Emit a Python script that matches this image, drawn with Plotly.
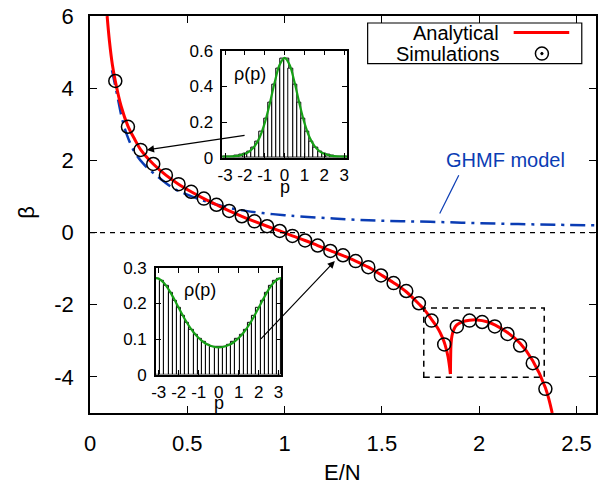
import plotly.graph_objects as go

# ---------------- main panel data ----------------
# simulation points: energy per particle and measured inverse temperature
E_SIM = [0.130, 0.195, 0.260, 0.325, 0.390, 0.455, 0.520, 0.585, 0.650, 0.715,
         0.780, 0.845, 0.910, 0.975, 1.040, 1.105, 1.170, 1.235, 1.300, 1.365,
         1.430, 1.495, 1.560, 1.625, 1.690, 1.755, 1.820, 1.885, 1.950, 2.015,
         2.080, 2.145, 2.210, 2.275, 2.340]
BETA_SIM = [4.20, 2.93, 2.29, 1.90, 1.59, 1.34, 1.13, 0.94, 0.77, 0.60,
            0.45, 0.31, 0.175, 0.044, -0.094, -0.22, -0.36, -0.51, -0.63, -0.79,
            -0.96, -1.19, -1.40, -1.62, -1.96, -2.44, -3.10, -2.60, -2.44, -2.48,
            -2.60, -2.81, -3.13, -3.62, -4.33]

# analytical curve, low-energy branch (ends at the cusp)
E_AN_1 = [0.088, 0.100, 0.115, 0.130, 0.160, 0.195, 0.230, 0.260, 0.325, 0.390,
          0.455, 0.520, 0.585, 0.650, 0.715, 0.780, 0.845, 0.910, 0.975, 1.040,
          1.105, 1.170, 1.235, 1.300, 1.365, 1.430, 1.495, 1.560, 1.625, 1.690,
          1.720, 1.754, 1.790, 1.810, 1.825, 1.840, 1.852]
BETA_AN_1 = [6.00, 5.30, 4.65, 4.20, 3.50, 2.95, 2.58, 2.30, 1.90, 1.59,
             1.34, 1.13, 0.94, 0.77, 0.60, 0.45, 0.31, 0.175, 0.045, -0.09,
             -0.22, -0.36, -0.50, -0.64, -0.79, -0.96, -1.17, -1.39, -1.64, -1.98,
             -2.15, -2.40, -2.68, -2.90, -3.12, -3.45, -3.92]
# analytical curve, high-energy branch (starts at the cusp)
E_AN_2 = [1.852, 1.853, 1.855, 1.860, 1.870, 1.885, 1.910, 1.950, 1.990, 2.040,
          2.080, 2.145, 2.210, 2.275, 2.340, 2.375]
BETA_AN_2 = [-3.92, -3.50, -3.10, -2.86, -2.68, -2.56, -2.48, -2.43, -2.42, -2.47,
             -2.56, -2.77, -3.07, -3.55, -4.30, -5.00]

# GHMF model curve
E_GHMF = [0.113, 0.140, 0.165, 0.190, 0.230, 0.275, 0.350, 0.430, 0.500, 0.564,
          0.640, 0.717, 0.800, 0.887, 1.000, 1.074, 1.250, 1.431, 1.600, 1.797,
          2.000, 2.200, 2.400, 2.600]
BETA_GHMF = [4.50, 3.80, 3.15, 2.70, 2.22, 1.90, 1.54, 1.22, 1.05, 0.92,
             0.79, 0.68, 0.60, 0.54, 0.48, 0.45, 0.39, 0.34, 0.315, 0.29,
             0.26, 0.235, 0.215, 0.20]

# ---------------- inset data: momentum distributions ----------------
P_BINS = [-3.037, -2.827, -2.618, -2.409, -2.199, -1.990, -1.780, -1.571, -1.361, -1.152,
          -0.942, -0.733, -0.524, -0.314, -0.105, 0.105, 0.314, 0.524, 0.733, 0.942,
          1.152, 1.361, 1.571, 1.780, 1.990, 2.199, 2.409, 2.618, 2.827, 3.037]
P_BIN_WIDTH = 0.2094
RHO_HIST_HOT = [0.006, 0.006, 0.008, 0.010, 0.015, 0.022, 0.035, 0.057, 0.091, 0.144,
                0.218, 0.311, 0.412, 0.500, 0.553, 0.553, 0.500, 0.412, 0.311, 0.218,
                0.144, 0.091, 0.057, 0.035, 0.022, 0.015, 0.010, 0.008, 0.006, 0.006]
RHO_HIST_NEG = [0.270, 0.263, 0.249, 0.231, 0.209, 0.187, 0.165, 0.145, 0.127, 0.112,
                0.100, 0.091, 0.084, 0.079, 0.077, 0.077, 0.079, 0.084, 0.091, 0.100,
                0.112, 0.127, 0.145, 0.165, 0.187, 0.209, 0.231, 0.249, 0.263, 0.270]

P_CURVE = [-3.1416, -3.0, -2.75, -2.5, -2.25, -2.0, -1.75, -1.5, -1.25, -1.0,
           -0.75, -0.5, -0.25, 0.0, 0.25, 0.5, 0.75, 1.0, 1.25, 1.5,
           1.75, 2.0, 2.25, 2.5, 2.75, 3.0, 3.1416]
RHO_CURVE_HOT = [0.0057, 0.0059, 0.0068, 0.0090, 0.0134, 0.0218, 0.0377, 0.0666, 0.1166, 0.1953,
                 0.3027, 0.4228, 0.5210, 0.5595, 0.5210, 0.4228, 0.3027, 0.1953, 0.1166, 0.0666,
                 0.0377, 0.0218, 0.0134, 0.0090, 0.0068, 0.0059, 0.0057]
RHO_CURVE_NEG = [0.2713, 0.2696, 0.2586, 0.2393, 0.2146, 0.1878, 0.1616, 0.1382, 0.1184, 0.1028,
                 0.0911, 0.0831, 0.0785, 0.0769, 0.0785, 0.0831, 0.0911, 0.1028, 0.1184, 0.1382,
                 0.1616, 0.1878, 0.2146, 0.2393, 0.2586, 0.2696, 0.2713]

# ---------------- tick labels ----------------
X_TICKS = [0, 0.5, 1, 1.5, 2, 2.5]
X_TICKTEXT = ["0", "0.5", "1", "1.5", "2", "2.5"]
Y_TICKS = [-4, -2, 0, 2, 4, 6]
Y_TICKTEXT = ["-4", "-2", "0", "2", "4", "6"]
P_TICKS = [-3, -2, -1, 0, 1, 2, 3]
P_TICKTEXT = ["-3", "-2", "-1", "0", "1", "2", "3"]
RHO_TICKS_HOT = [0, 0.2, 0.4, 0.6]
RHO_TICKTEXT_HOT = ["0", "0.2", "0.4", "0.6"]
RHO_TICKS_NEG = [0, 0.1, 0.2, 0.3]
RHO_TICKTEXT_NEG = ["0", "0.1", "0.2", "0.3"]

FONT = "Liberation Sans, Arial, Helvetica, sans-serif"
RED = "#ff0000"
BLUE = "#0a3cb4"
GREEN = "#16a016"

fig = go.Figure()

# GHMF model (dash-dot)
fig.add_trace(go.Scatter(x=E_GHMF, y=BETA_GHMF, mode="lines", line_shape="spline",
                         line=dict(color=BLUE, width=2.5, dash="15px,6px,3px,6px"),
                         xaxis="x", yaxis="y"))
# analytical curve, two branches joined at the cusp
fig.add_trace(go.Scatter(x=E_AN_1 + [None] + E_AN_2, y=BETA_AN_1 + [None] + BETA_AN_2,
                         mode="lines", line_shape="spline", connectgaps=False,
                         line=dict(color=RED, width=3), xaxis="x", yaxis="y"))
# simulations
fig.add_trace(go.Scatter(x=E_SIM, y=BETA_SIM, mode="markers",
                         marker=dict(symbol="circle-open", size=13, color="black",
                                     line=dict(width=1.5, color="black")),
                         xaxis="x", yaxis="y"))

# inset 1: positive temperature distribution
fig.add_trace(go.Bar(x=P_BINS, y=RHO_HIST_HOT, width=P_BIN_WIDTH,
                     marker=dict(color="white", line=dict(color="black", width=1)),
                     xaxis="x2", yaxis="y2"))
fig.add_trace(go.Scatter(x=P_CURVE, y=RHO_CURVE_HOT, mode="lines", line_shape="spline",
                         line=dict(color=GREEN, width=2.2), xaxis="x2", yaxis="y2"))
# inset 2: negative temperature distribution
fig.add_trace(go.Bar(x=P_BINS, y=RHO_HIST_NEG, width=P_BIN_WIDTH,
                     marker=dict(color="white", line=dict(color="black", width=1)),
                     xaxis="x3", yaxis="y3"))
fig.add_trace(go.Scatter(x=P_CURVE, y=RHO_CURVE_NEG, mode="lines", line_shape="spline",
                         line=dict(color=GREEN, width=2.2), xaxis="x3", yaxis="y3"))

axis_common = dict(showline=True, linecolor="black", mirror="ticks", ticks="inside",
                   showgrid=False, zeroline=False, color="black")

fig.update_layout(
    width=599, height=486,
    margin=dict(l=90, r=1, t=16, b=73),
    paper_bgcolor="white", plot_bgcolor="white",
    showlegend=False, bargap=0,
    font=dict(family=FONT, color="black"),
    xaxis=dict(axis_common, range=[0, 2.6], domain=[0, 1], anchor="y",
               tickvals=X_TICKS, ticktext=X_TICKTEXT, ticklen=7, tickwidth=1.2,
               linewidth=1.5, tickfont=dict(size=22), ticklabelstandoff=10),
    yaxis=dict(axis_common, range=[-5, 6], domain=[0, 1], anchor="x",
               tickvals=Y_TICKS, ticktext=Y_TICKTEXT, ticklen=7, tickwidth=1.2,
               linewidth=1.5, tickfont=dict(size=22), ticklabelstandoff=10),
    xaxis2=dict(axis_common, range=[-3.1416, 3.1416], domain=[0.2614, 0.5078], anchor="y2",
                tickvals=P_TICKS, ticktext=P_TICKTEXT, ticklen=5, tickwidth=1,
                linewidth=1.5, tickfont=dict(size=17), ticklabelstandoff=1),
    yaxis2=dict(axis_common, range=[0, 0.6005], domain=[0.643, 0.9128], anchor="x2",
                tickvals=RHO_TICKS_HOT, ticktext=RHO_TICKTEXT_HOT, ticklen=5, tickwidth=1,
                linewidth=1.5, tickfont=dict(size=17), ticklabelstandoff=4),
    xaxis3=dict(axis_common, range=[-3.1416, 3.1416], domain=[0.1303, 0.3783], anchor="y3",
                tickvals=P_TICKS, ticktext=P_TICKTEXT, ticklen=5, tickwidth=1,
                linewidth=1.5, tickfont=dict(size=17), ticklabelstandoff=1),
    yaxis3=dict(axis_common, range=[0, 0.3005], domain=[0.0967, 0.3657], anchor="x3",
                tickvals=RHO_TICKS_NEG, ticktext=RHO_TICKTEXT_NEG, ticklen=5, tickwidth=1,
                linewidth=1.5, tickfont=dict(size=17), ticklabelstandoff=4),
)

shapes = [
    # beta = 0 reference line
    dict(type="line", xref="x", yref="y", x0=0, x1=2.6, y0=0, y1=0,
         line=dict(color="black", width=1.2, dash="5px,5px")),
    # dashed box around the cusp region
    dict(type="rect", xref="x", yref="y", x0=1.715, x1=2.334, y0=-4.01, y1=-2.09,
         line=dict(color="black", width=1.5, dash="6px,5px")),
    # pointer from the GHMF label to its curve
    dict(type="line", xref="x", yref="y", x0=1.895, y0=1.59, x1=1.797, y1=0.53,
         line=dict(color=BLUE, width=1.2)),
    # key box
    dict(type="rect", xref="paper", yref="paper", x0=0.5487, x1=0.9719, y0=0.8801, y1=0.9824,
         line=dict(color="black", width=1.2), fillcolor="white"),
    # key sample: analytical line
    dict(type="line", xref="paper", yref="paper", x0=0.8373, x1=0.9471, y0=0.9582, y1=0.9582,
         line=dict(color=RED, width=3)),
    # key sample: simulation marker (circle with centre dot)
    dict(type="circle", xref="paper", yref="paper", xsizemode="pixel", ysizemode="pixel",
         xanchor=0.8931, yanchor=0.9053, x0=-6.5, x1=6.5, y0=-6.5, y1=6.5,
         line=dict(color="black", width=1.5)),
    dict(type="circle", xref="paper", yref="paper", xsizemode="pixel", ysizemode="pixel",
         xanchor=0.8931, yanchor=0.9053, x0=-1.2, x1=1.2, y0=-1.2, y1=1.2,
         line=dict(color="black", width=1), fillcolor="black"),
]
fig.update_layout(shapes=shapes)

annotations = [
    # axis titles
    dict(text="E/N", xref="paper", yref="paper", x=0.4995, y=-0.1846, showarrow=False,
         font=dict(size=22), xanchor="center", yanchor="bottom", borderpad=0),
    dict(text="β", xref="paper", yref="paper", x=-0.127, y=0.506, showarrow=False,
         font=dict(size=22), textangle=-90, xanchor="center", yanchor="middle"),
    # key labels
    dict(text="Analytical", xref="paper", yref="paper", x=0.8113, y=0.9582, showarrow=False,
         font=dict(size=20), xanchor="right", yanchor="middle"),
    dict(text="Simulations", xref="paper", yref="paper", x=0.8113, y=0.9053, showarrow=False,
         font=dict(size=20), xanchor="right", yanchor="middle"),
    # GHMF label
    dict(text="GHMF model", xref="x", yref="y", x=2.137, y=2.0, showarrow=False,
         font=dict(size=20, color=BLUE), xanchor="center", yanchor="middle"),
    # inset labels
    dict(text="ρ(p)", xref="x2", yref="paper", x=-1.75, y=0.855, showarrow=False,
         font=dict(size=18), xanchor="center", yanchor="middle"),
    dict(text="p", xref="x2", yref="paper", x=0, y=0.570, showarrow=False,
         font=dict(size=18), xanchor="center", yanchor="middle", borderpad=0),
    dict(text="ρ(p)", xref="x3", yref="paper", x=-0.95, y=0.309, showarrow=False,
         font=dict(size=18), xanchor="center", yanchor="middle"),
    dict(text="p", xref="x3", yref="paper", x=0, y=0.024, showarrow=False,
         font=dict(size=18), xanchor="center", yanchor="middle", borderpad=0),
    # arrows linking each inset to its simulation point
    dict(text="", xref="x", yref="y", axref="x", ayref="y", x=0.292, y=2.29, ax=0.802, ay=2.70,
         showarrow=True, arrowhead=2, arrowsize=1.2, arrowwidth=1.2, arrowcolor="black", standoff=0),
    dict(text="", xref="x", yref="y", axref="x", ayref="y", x=1.258, y=-0.789, ax=0.871, ay=-2.99,
         showarrow=True, arrowhead=2, arrowsize=1.2, arrowwidth=1.2, arrowcolor="black", standoff=0),
]
fig.update_layout(annotations=annotations)

fig.write_html("out.html")
